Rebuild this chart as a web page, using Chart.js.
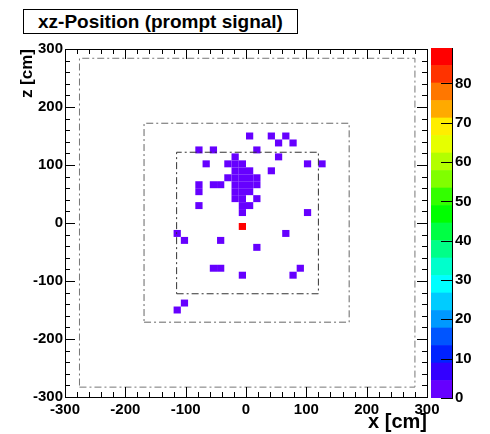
<!DOCTYPE html>
<html>
<head>
<meta charset="utf-8">
<script src="https://cdn.jsdelivr.net/npm/chart.js@4.4.0/dist/chart.umd.min.js"></script>
<style>
    html, body { margin: 0; padding: 0; background: #fff; }
    #wrap { position: relative; width: 490px; height: 434px; }
    #wrap canvas { position: absolute; left: 0; top: 0; }
    #titulo {
        position: absolute; left: 23px; top: 9px; width: 273px; height: 23px;
        border: 1px solid #000; background: #fff;
        font: bold 19px "Liberation Sans", Arial, sans-serif;
        line-height: 23px; text-align: center; color: #000;
    }
</style>
</head>
<body>
<div id="wrap">
    <canvas id="histo" width="490" height="434"></canvas>
    <canvas id="paleta" width="490" height="434"></canvas>
    <div id="titulo">xz-Position (prompt signal)</div>
</div>
<script>
// bins de 12 cm, borda inferior de cada celula
const binWidth = 12;
const cellX = [0, 36, 60, 48, 72, -84, -60, 12, -24, 48,
    -72, -36, -24, -12, 96, 120, -24, -12, 0, 36,
    -36, -24, -12, 0, 12, -84, -60, -48, -24, -12,
    0, 12, -84, -24, -12, 0, -24, -12, 12, -84,
    -12, 0, -12, 96, -12, -120, 60, -108, -48, 12,
    -60, -48, 84, -12, 72, -108, -120];
const cellZ = [144, 144, 144, 132, 132, 120, 120, 120, 108, 108,
    96, 96, 96, 96, 96, 96, 84, 84, 84, 84,
    72, 72, 72, 72, 72, 60, 60, 60, 60, 60,
    60, 60, 48, 48, 48, 48, 36, 36, 36, 24,
    24, 24, 12, 12, -12, -24, -24, -36, -36, -48,
    -84, -84, -84, -96, -96, -144, -156];
const cellCount = [1, 1, 1, 1, 1, 1, 1, 1, 2, 1,
    1, 2, 3, 2, 1, 1, 3, 4, 2, 1,
    2, 4, 4, 3, 2, 1, 1, 1, 3, 4,
    3, 2, 1, 3, 3, 2, 2, 2, 1, 1,
    2, 1, 1, 1, 89, 1, 1, 1, 1, 1,
    1, 1, 1, 1, 1, 1, 1];

// contornos do detector [xmin, xmax, zmin, zmax]
const caixaInterna = [-115, 120, -122, 122];
const caixaMeio = [-169, 171, -171, 172];
const caixaExterna = [-276, 280, -283, 284];

const xTicks = [-300, -200, -100, 0, 100, 200, 300];
const zTicks = [-300, -200, -100, 0, 100, 200, 300];
const paletaTicks = [0, 10, 20, 30, 40, 50, 60, 70, 80];
const zMax = 89;
const paletaCores = ['#6600ff', '#3300ff', '#0022ff', '#0055ff', '#0099ff',
    '#00ccff', '#00ffff', '#00ffcc', '#00ff88', '#00ff44',
    '#00ff00', '#33ff00', '#80ff00', '#b3ff00', '#e6ff00',
    '#ffee00', '#ffaa00', '#ff7700', '#ff3300', '#ff0000'];

const fonte = '"Liberation Sans", Arial, sans-serif';
Chart.defaults.font.family = fonte;
Chart.defaults.color = '#000';

const passo = zMax / paletaCores.length;
const corDaCelula = (n) => paletaCores[Math.min(paletaCores.length - 1, Math.floor(n / passo))];

const contorno = (c) => [
    { x: c[0], y: c[2] }, { x: c[1], y: c[2] }, { x: c[1], y: c[3] },
    { x: c[0], y: c[3] }, { x: c[0], y: c[2] },
];

const linhaCaixa = (c, cor) => ({
    type: 'line',
    data: contorno(c),
    borderColor: cor,
    borderWidth: 1,
    borderDash: [7, 3, 2, 3],
    pointRadius: 0,
    showLine: true,
    fill: false,
    tension: 0,
});

const celulas = {
    id: 'celulas',
    beforeDatasetsDraw(chart) {
        const { ctx, scales: { x, y } } = chart;
        ctx.save();
        cellX.forEach((cx, k) => {
            const x0 = x.getPixelForValue(cx);
            const x1 = x.getPixelForValue(cx + binWidth);
            const y0 = y.getPixelForValue(cellZ[k] + binWidth);
            const y1 = y.getPixelForValue(cellZ[k]);
            ctx.fillStyle = corDaCelula(cellCount[k]);
            ctx.fillRect(x0, y0, x1 - x0, y1 - y0);
        });
        ctx.restore();
    },
};

const moldura = {
    id: 'moldura',
    afterDraw(chart) {
        const { ctx, chartArea: a, scales: { x, y } } = chart;
        ctx.save();
        ctx.strokeStyle = '#000';
        ctx.lineWidth = 1;
        ctx.beginPath();
        for (let v = -300; v <= 300; v += 20) {
            const len = v % 100 === 0 ? 10 : 5;
            const px = Math.round(x.getPixelForValue(v)) + 0.5;
            ctx.moveTo(px, a.bottom); ctx.lineTo(px, a.bottom - len);
            ctx.moveTo(px, a.top); ctx.lineTo(px, a.top + len);
            const py = Math.round(y.getPixelForValue(v)) + 0.5;
            ctx.moveTo(a.left, py); ctx.lineTo(a.left + len, py);
            ctx.moveTo(a.right, py); ctx.lineTo(a.right - len, py);
        }
        ctx.stroke();
        ctx.strokeRect(a.left + 0.5, a.top + 0.5, a.right - a.left, a.bottom - a.top);
        ctx.restore();
    },
};

new Chart(document.getElementById('histo'), {
    type: 'scatter',
    data: {
        datasets: [
            linhaCaixa(caixaExterna, '#777'),
            linhaCaixa(caixaMeio, '#666'),
            linhaCaixa(caixaInterna, '#333'),
        ],
    },
    options: {
        responsive: false,
        animation: false,
        layout: { padding: { top: 49, right: 63, left: 0, bottom: 0 } },
        plugins: {
            legend: { display: false },
            title: { display: false },
            tooltip: { enabled: false },
        },
        scales: {
            x: {
                type: 'linear', min: -300, max: 300,
                afterBuildTicks: (s) => { s.ticks = xTicks.map(v => ({ value: v })); },
                afterFit: (s) => { s.height = 37; },
                grid: { display: false, drawTicks: false },
                border: { display: false },
                ticks: { autoSkip: false, maxRotation: 0, padding: 4, font: { size: 15, weight: 'bold' } },
                title: { display: true, text: 'x [cm]', align: 'end', font: { size: 20, weight: 'bold' }, padding: 0 },
            },
            y: {
                type: 'linear', min: -300, max: 300,
                afterBuildTicks: (s) => { s.ticks = zTicks.map(v => ({ value: v })); },
                afterFit: (s) => { s.width = 65; },
                grid: { display: false, drawTicks: false },
                border: { display: false },
                ticks: { autoSkip: false, padding: 2, font: { size: 15, weight: 'bold' } },
                title: { display: true, text: 'z [cm]', align: 'end', font: { size: 17, weight: 'bold' }, padding: { top: 17, bottom: 0 } },
            },
        },
    },
    plugins: [celulas, moldura],
});

const ticksPaleta = {
    id: 'ticksPaleta',
    afterDraw(chart) {
        const { ctx, chartArea: a, scales: { y } } = chart;
        ctx.save();
        ctx.strokeStyle = '#000';
        ctx.lineWidth = 1;
        ctx.beginPath();
        paletaTicks.forEach(v => {
            const py = Math.round(y.getPixelForValue(v)) + 0.5;
            ctx.moveTo(a.right, py); ctx.lineTo(a.right - 11, py);
        });
        ctx.stroke();
        ctx.restore();
    },
};

new Chart(document.getElementById('paleta'), {
    type: 'bar',
    data: {
        labels: [''],
        datasets: paletaCores.map(c => ({
            data: [passo],
            backgroundColor: c,
            borderWidth: 0,
            barPercentage: 1,
            categoryPercentage: 1,
        })),
    },
    options: {
        responsive: false,
        animation: false,
        layout: { padding: { left: 431, top: 48, bottom: 36, right: 0 } },
        plugins: { legend: { display: false }, tooltip: { enabled: false } },
        scales: {
            x: { display: false, stacked: true },
            y: {
                stacked: true, position: 'right', min: 0, max: zMax,
                afterBuildTicks: (s) => { s.ticks = paletaTicks.map(v => ({ value: v })); },
                afterFit: (s) => { s.width = 38; },
                grid: { display: false, drawTicks: false },
                border: { display: true, color: '#000' },
                ticks: { padding: 3, font: { size: 15, weight: 'bold' } },
            },
        },
    },
    plugins: [ticksPaleta],
});
</script>
</body>
</html>
